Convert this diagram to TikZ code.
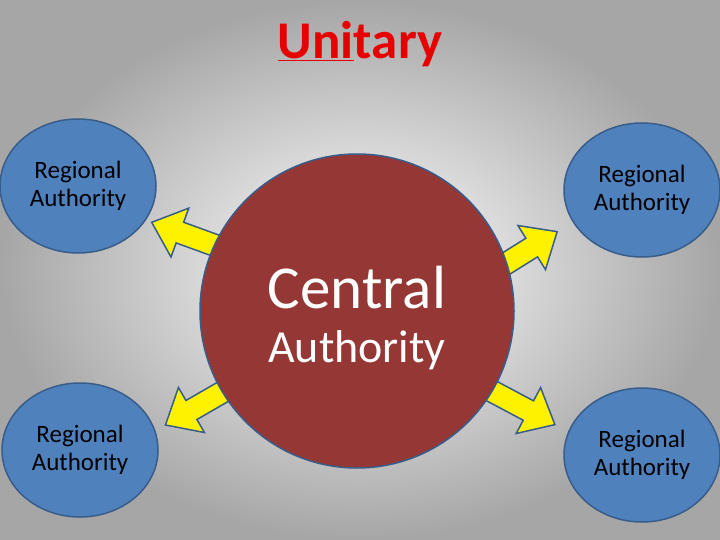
\documentclass[tikz,border=0pt]{standalone}
\usepackage{fontspec}
\setmainfont{Carlito}
\usetikzlibrary{shadings,shapes.geometric}
\definecolor{blueRA}{RGB}{79,129,189}
\definecolor{edgeB}{RGB}{56,93,138}
\definecolor{brick}{RGB}{149,55,53}
\definecolor{ttl}{RGB}{230,0,0}
\tikzset{
 ra/.style={ellipse,draw=edgeB,line width=1.5pt,fill=blueRA,minimum width=156pt,minimum height=134pt,align=center,font=\fontsize{25}{28}\selectfont},
 barrow/.style={fill=yellow,draw=edgeB,line width=1.5pt,line join=miter}
}
\newcommand{\blockarrow}[3]{% x y angle  (start at base, tip along angle)
 \begin{scope}[shift={(#1,#2)},rotate=#3]
 \draw[barrow] (0,-11) -- (48,-11) -- (48,-26) -- (78,0) -- (48,26) -- (48,11) -- (0,11) -- cycle;
 \end{scope}}
\begin{document}
\begin{tikzpicture}[x=1pt,y=-1pt]
\useasboundingbox (0,0) rectangle (720,540);
\shade[inner color=white,outer color=gray!70] (0,0) rectangle (720,540);
\node[font=\bfseries\fontsize{53}{58}\selectfont,text=ttl] (title) at (360,44) {\underline{Uni}tary};
\node[ra] (tl) at (78,186) {Regional\\Authority};
\node[ra] (tr) at (642,190) {Regional\\Authority};
\node[ra] (bl) at (80,450) {Regional\\Authority};
\node[ra] (br) at (642,455) {Regional\\Authority};
\blockarrow{225}{249}{160}
\blockarrow{491}{273}{32}
\blockarrow{233}{386}{-150}
\blockarrow{486}{388}{-28}
\node[circle,draw=edgeB,line width=1.5pt,fill=brick,minimum size=314pt] (ca) at (357,311) {};
\node[text=white,font=\fontsize{61}{64}\selectfont] (c1) at (357,288) {Central};
\node[text=white,font=\fontsize{46}{50}\selectfont] (c2) at (357,350) {Authority};
\end{tikzpicture}
\end{document}
